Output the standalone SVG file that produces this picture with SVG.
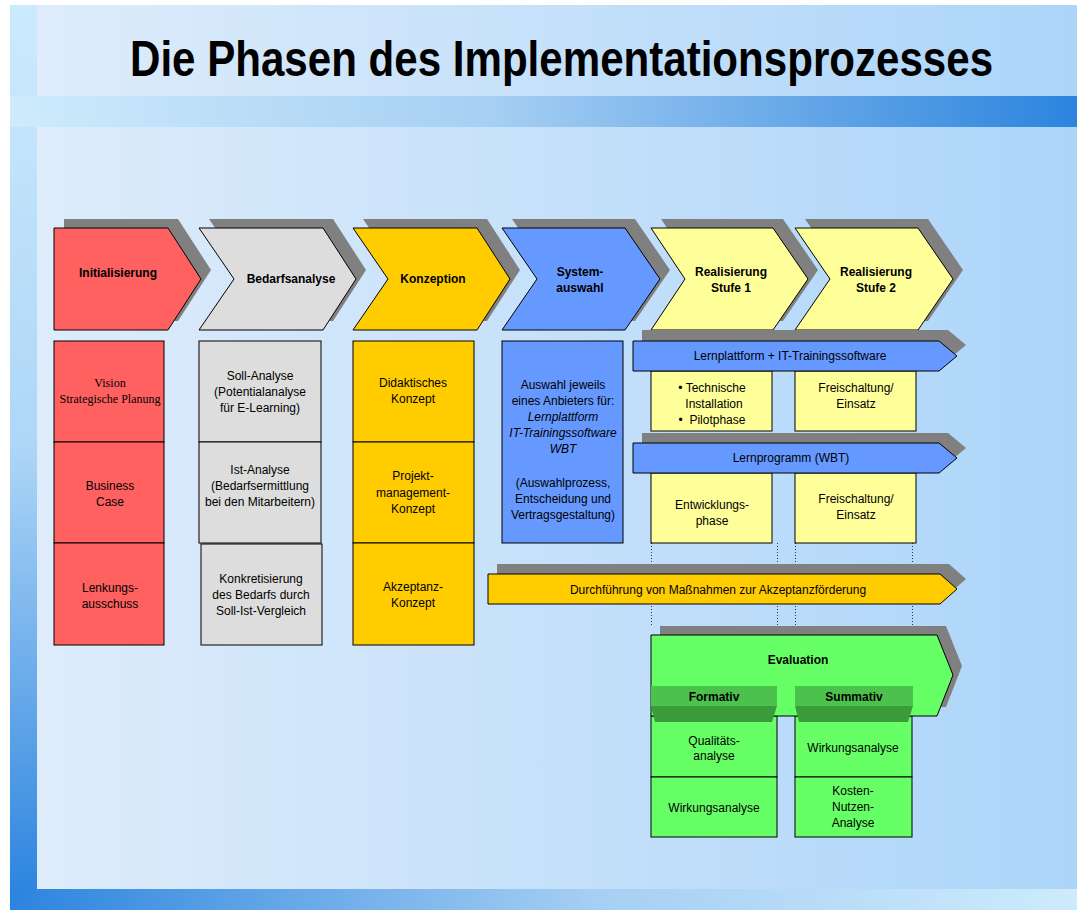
<svg xmlns="http://www.w3.org/2000/svg" width="1077" height="910" viewBox="0 0 1077 910">
<defs>
<linearGradient id="panelGrad" x1="0" y1="0" x2="1" y2="0">
<stop offset="0" stop-color="#DEECFB"/><stop offset="1" stop-color="#ACD5F9"/>
</linearGradient>
<linearGradient id="topBand" x1="0" y1="0" x2="1" y2="0">
<stop offset="0" stop-color="#CDEBFC"/><stop offset="0.45" stop-color="#A6CFF3"/><stop offset="1" stop-color="#2C84DE"/>
</linearGradient>
<linearGradient id="bottomBand" x1="0" y1="0" x2="1" y2="0">
<stop offset="0" stop-color="#2C84DE"/><stop offset="0.55" stop-color="#A6CFF3"/><stop offset="1" stop-color="#CDEBFC"/>
</linearGradient>
<linearGradient id="leftStrip" x1="0" y1="0" x2="0" y2="1">
<stop offset="0" stop-color="#CBEAFD"/><stop offset="0.5" stop-color="#AED6F7"/><stop offset="1" stop-color="#2E85DF"/>
</linearGradient>
<style>
.sh{fill:#808080;stroke:none}
.ol{stroke:#000;stroke-width:1}
.red{fill:#FF6161}
.gray{fill:#DDDDDD}
.gold{fill:#FFCC00}
.blue{fill:#6699FF}
.yel{fill:#FFFF99}
.grn{fill:#66FF66}
.t{font-family:"Liberation Sans",Arial,sans-serif;font-size:12px;fill:#000;text-anchor:middle}
.b{font-weight:bold}
.serif{font-family:"Liberation Serif","Times New Roman",serif}
.i{font-style:italic}
.dot{stroke:#333;stroke-width:1;stroke-dasharray:1 2;fill:none}
</style>
</defs>

<!-- background -->
<rect x="0" y="0" width="1077" height="910" fill="#FFFFFF"/>
<rect x="37" y="5" width="1040" height="884" fill="url(#panelGrad)"/>
<rect x="10" y="5" width="27" height="884" fill="url(#leftStrip)"/>
<rect x="10" y="96" width="1067" height="31" fill="url(#topBand)"/>
<rect x="10" y="889" width="1067" height="21" fill="url(#bottomBand)"/>
<text transform="translate(130,76) scale(0.842,1)" x="0" y="0" font-family="'Liberation Sans',Arial,sans-serif" font-weight="bold" font-size="50">Die Phasen des Implementationsprozesses</text>

<!-- phase chevrons -->
<g id="phase-initialisierung">
<polygon class="sh" transform="translate(10,-9)" points="54,228 168,228 201,279 168,330 54,330"/>
<polygon class="red ol" points="54,228 168,228 201,279 168,330 54,330"/>
<text class="t b" x="118" y="277">Initialisierung</text>
</g>
<g id="phase-bedarfsanalyse">
<polygon class="sh" transform="translate(10,-9)" points="199,228 323,228 356,279 323,330 199,330 234,279"/>
<polygon class="gray ol" points="199,228 323,228 356,279 323,330 199,330 234,279"/>
<text class="t b" x="291" y="283">Bedarfsanalyse</text>
</g>
<g id="phase-konzeption">
<polygon class="sh" transform="translate(10,-9)" points="353,228 477,228 510,279 477,330 353,330 388,279"/>
<polygon class="gold ol" points="353,228 477,228 510,279 477,330 353,330 388,279"/>
<text class="t b" x="433" y="283">Konzeption</text>
</g>
<g id="phase-systemauswahl">
<polygon class="sh" transform="translate(10,-9)" points="502,228 625,228 660,279 625,330 502,330 537,279"/>
<polygon class="blue ol" points="502,228 625,228 660,279 625,330 502,330 537,279"/>
<text class="t b" x="580" y="276">System-</text>
<text class="t b" x="580" y="292">auswahl</text>
</g>
<g id="phase-realisierung1">
<polygon class="sh" transform="translate(10,-9)" points="651,228 773,228 808,279 773,330 651,330 685,279"/>
<polygon class="yel ol" points="651,228 773,228 808,279 773,330 651,330 685,279"/>
<text class="t b" x="731" y="276">Realisierung</text>
<text class="t b" x="731" y="292">Stufe 1</text>
</g>
<g id="phase-realisierung2">
<polygon class="sh" transform="translate(10,-9)" points="795,228 918,228 953,279 918,330 795,330 830,279"/>
<polygon class="yel ol" points="795,228 918,228 953,279 918,330 795,330 830,279"/>
<text class="t b" x="876" y="276">Realisierung</text>
<text class="t b" x="876" y="292">Stufe 2</text>
</g>

<!-- column 1 -->
<g id="init-vision">
<rect class="red ol" x="54" y="341" width="110" height="101"/>
<text class="t serif" x="110" y="387">Vision</text>
<text class="t serif" x="110" y="403">Strategische Planung</text>
</g>
<g id="init-business">
<rect class="red ol" x="54" y="442" width="110" height="101"/>
<text class="t" x="110" y="490">Business</text>
<text class="t" x="110" y="506">Case</text>
</g>
<g id="init-lenkung">
<rect class="red ol" x="54" y="543" width="110" height="102"/>
<text class="t" x="110" y="592">Lenkungs-</text>
<text class="t" x="110" y="608">ausschuss</text>
</g>

<!-- column 2 -->
<g id="bed-soll">
<rect class="gray ol" x="199" y="341" width="122" height="101"/>
<text class="t" x="260" y="380">Soll-Analyse</text>
<text class="t" x="260" y="396">(Potentialanalyse</text>
<text class="t" x="260" y="412">für E-Learning)</text>
</g>
<g id="bed-ist">
<rect class="gray ol" x="199" y="442" width="122" height="101"/>
<text class="t" x="260" y="474">Ist-Analyse</text>
<text class="t" x="260" y="490">(Bedarfsermittlung</text>
<text class="t" x="260" y="506">bei den Mitarbeitern)</text>
</g>
<g id="bed-konkret">
<rect class="gray ol" x="201" y="544" width="121" height="101"/>
<text class="t" x="261" y="583">Konkretisierung</text>
<text class="t" x="261" y="599">des Bedarfs durch</text>
<text class="t" x="261" y="615">Soll-Ist-Vergleich</text>
</g>

<!-- column 3 -->
<g id="konz-didaktik">
<rect class="gold ol" x="353" y="341" width="121" height="101"/>
<text class="t" x="413" y="387">Didaktisches</text>
<text class="t" x="413" y="403">Konzept</text>
</g>
<g id="konz-pm">
<rect class="gold ol" x="353" y="442" width="121" height="101"/>
<text class="t" x="413" y="480">Projekt-</text>
<text class="t" x="413" y="497">management-</text>
<text class="t" x="413" y="513">Konzept</text>
</g>
<g id="konz-akzeptanz">
<rect class="gold ol" x="353" y="543" width="121" height="102"/>
<text class="t" x="413" y="591">Akzeptanz-</text>
<text class="t" x="413" y="607">Konzept</text>
</g>

<!-- column 4 -->
<g id="sys-auswahl">
<rect class="blue ol" x="502" y="341" width="121" height="202"/>
<text class="t" x="563" y="389">Auswahl jeweils</text>
<text class="t" x="563" y="405">eines Anbieters für:</text>
<text class="t i" x="563" y="421">Lernplattform</text>
<text class="t i" x="563" y="437">IT-Trainingssoftware</text>
<text class="t i" x="563" y="453">WBT</text>
<text class="t" x="563" y="487">(Auswahlprozess,</text>
<text class="t" x="563" y="503">Entscheidung und</text>
<text class="t" x="563" y="519">Vertragsgestaltung)</text>
</g>

<!-- connectors (dotted guide lines) -->
<g id="connectors">
<line class="dot" x1="651.5" y1="543" x2="651.5" y2="626"/>
<line class="dot" x1="777.5" y1="543" x2="777.5" y2="626"/>
<line class="dot" x1="795.5" y1="543" x2="795.5" y2="626"/>
<line class="dot" x1="912.5" y1="543" x2="912.5" y2="626"/>
</g>

<!-- Realisierung details -->
<g id="real-technik">
<rect class="yel ol" x="651" y="371" width="121" height="60"/>
<text class="t" x="712" y="392">• Technische</text>
<text class="t" x="714" y="408">Installation</text>
<text class="t" x="712" y="424" style="white-space:pre" xml:space="preserve">•  Pilotphase</text>
</g>
<g id="real-freischaltung1">
<rect class="yel ol" x="795" y="371" width="121" height="60"/>
<text class="t" x="856" y="392">Freischaltung/</text>
<text class="t" x="856" y="408">Einsatz</text>
</g>
<g id="bar-lernplattform">
<polygon class="sh" transform="translate(9,-11)" points="633,341 939,341 957,356 939,371 633,371"/>
<polygon class="blue ol" points="633,341 939,341 957,356 939,371 633,371"/>
<text class="t" x="790" y="360">Lernplattform + IT-Trainingssoftware</text>
</g>
<g id="real-entwicklung">
<rect class="yel ol" x="651" y="473" width="121" height="70"/>
<text class="t" x="712" y="509">Entwicklungs-</text>
<text class="t" x="712" y="525">phase</text>
</g>
<g id="real-freischaltung2">
<rect class="yel ol" x="795" y="473" width="121" height="70"/>
<text class="t" x="856" y="503">Freischaltung/</text>
<text class="t" x="856" y="519">Einsatz</text>
</g>
<g id="bar-lernprogramm">
<polygon class="sh" transform="translate(9,-10)" points="633,443 939,443 957,458 939,473 633,473"/>
<polygon class="blue ol" points="633,443 939,443 957,458 939,473 633,473"/>
<text class="t" x="791" y="462">Lernprogramm (WBT)</text>
</g>

<!-- Akzeptanzförderung bar -->
<g id="bar-akzeptanz">
<polygon class="sh" transform="translate(9,-10)" points="488,574 940,574 957,589 940,604 488,604"/>
<polygon class="gold ol" points="488,574 940,574 957,589 940,604 488,604"/>
<text class="t" x="718" y="594">Durchführung von Maßnahmen zur Akzeptanzförderung</text>
</g>

<!-- Evaluation -->
<g id="eval-qualitaet">
<rect class="grn ol" x="651" y="716" width="126" height="61"/>
<text class="t" x="714" y="745">Qualitäts-</text>
<text class="t" x="714" y="760">analyse</text>
</g>
<g id="eval-wirkung-f">
<rect class="grn ol" x="651" y="777" width="126" height="60"/>
<text class="t" x="714" y="812">Wirkungsanalyse</text>
</g>
<g id="eval-wirkung-s">
<rect class="grn ol" x="795" y="716" width="117" height="61"/>
<text class="t" x="853" y="752">Wirkungsanalyse</text>
</g>
<g id="eval-kosten">
<rect class="grn ol" x="795" y="777" width="117" height="60"/>
<text class="t" x="853" y="795">Kosten-</text>
<text class="t" x="853" y="811">Nutzen-</text>
<text class="t" x="853" y="827">Analyse</text>
</g>
<g id="evaluation">
<polygon class="sh" transform="translate(9,-9)" points="651,635 937,635 953,675 937,716 651,716"/>
<polygon class="grn ol" points="651,635 937,635 953,675 937,716 651,716"/>
<text class="t b" x="798" y="664">Evaluation</text>
</g>
<g id="tab-formativ">
<rect x="651" y="686" width="126" height="20" fill="#4CC24C"/>
<polygon points="651,706 777,706 772,722 655,722" fill="#3B9B3B"/>
<text class="t b" x="714" y="701">Formativ</text>
</g>
<g id="tab-summativ">
<rect x="795" y="686" width="118" height="20" fill="#4CC24C"/>
<polygon points="795,706 913,706 908,722 799,722" fill="#3B9B3B"/>
<text class="t b" x="854" y="701">Summativ</text>
</g>
</svg>
